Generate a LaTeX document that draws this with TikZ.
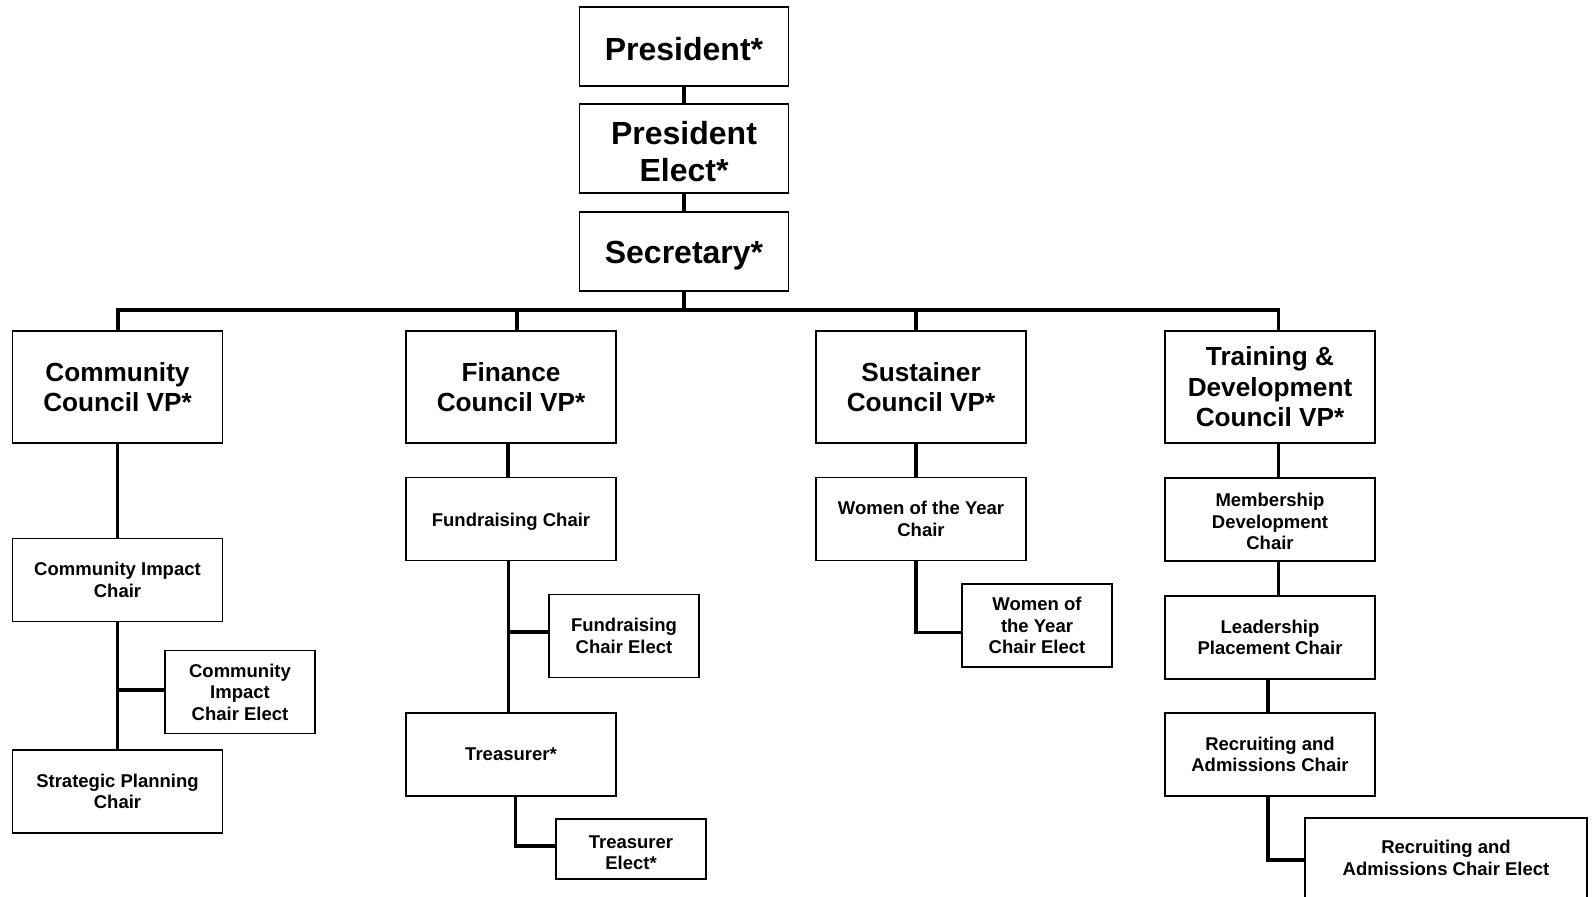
\documentclass[tikz,border=0pt]{standalone}
\usepackage{fontspec}
\setmainfont{Liberation Sans}

\tikzset{
  bigbox/.style={draw, line width=0.9pt, inner sep=0pt, align=center,
    minimum width=104.5pt, font=\bfseries\fontsize{16}{18.3}\selectfont},
  vpbox/.style={draw, line width=0.9pt, inner sep=0pt, align=center,
    minimum width=105pt, minimum height=56pt, font=\bfseries\fontsize{13.1}{15.25}\selectfont},
  chairbox/.style={draw, line width=0.9pt, inner sep=0pt, align=center,
    minimum width=105pt, minimum height=41.5pt, font=\bfseries\fontsize{9.25}{10.7}\selectfont},
  electbox/.style={chairbox, minimum width=75pt},
  link/.style={line width=1.6pt, line cap=rect}
}

\begin{document}
\begin{tikzpicture}[x=0.5pt, y=-0.5pt]

    % Page frame
    \useasboundingbox (0,0) rectangle (1594,896);
    \fill[white] (0,0) rectangle (1594,896);
    \clip (0,0) rectangle (1594,896);

    % Top column
    \node[bigbox, minimum height=39.5pt, text height=13.7pt, text depth=0pt] (pres) at (684,46.5) {President*};
    \node[bigbox, minimum height=44.5pt, text height=33pt, text depth=0pt] (preselect) at (684,148.5) {President\\Elect*};
    \node[bigbox, minimum height=39.5pt, text height=12.3pt, text depth=0pt] (sec) at (684,251.5) {Secretary*};

    % Council VPs
    \node[vpbox] (comvp) at (117.5,387) {Community\\Council VP*};
    \node[vpbox] (finvp) at (511,387) {Finance\\Council VP*};
    \node[vpbox] (susvp) at (921,387) {Sustainer\\Council VP*};
    \node[vpbox] (trvp) at (1270,387) {Training \&\\Development\\Council VP*};

    % Community council
    \node[chairbox] (cichair) at (117.5,580) {Community Impact\\Chair};
    \node[electbox] (cielect) at (240,692) {Community\\Impact\\Chair Elect};
    \node[chairbox] (strat) at (117.5,791.5) {Strategic Planning\\Chair};

    % Finance council
    \node[chairbox, text height=7.8pt, text depth=0pt] (fundr) at (511,519) {Fundraising Chair};
    \node[electbox] (fundrelect) at (624,636) {Fundraising\\Chair Elect};
    \node[chairbox] (treas) at (511,754.5) {Treasurer*};
    \node[electbox, minimum height=30pt, text height=20.4pt, text depth=0pt] (treaselect) at (631,849) {Treasurer\\Elect*};

    % Sustainer council
    \node[chairbox] (woty) at (921,519) {Women of the Year\\Chair};
    \node[electbox] (wotyelect) at (1037,625.5) {Women of\\the Year\\Chair Elect};

    % Training & development council
    \node[chairbox, text height=30.2pt, text depth=0pt] (memb) at (1270,519.5) {Membership\\Development\\Chair};
    \node[chairbox] (lead) at (1270,637.5) {Leadership\\Placement Chair};
    \node[chairbox] (recr) at (1270,754.5) {Recruiting and\\Admissions Chair};
    \node[chairbox, minimum width=141pt, minimum height=40pt] (recrelect) at (1446,858) {Recruiting and\\Admissions Chair Elect};

    % Top links and the bus
    \coordinate (busL) at (118,310);
    \coordinate (busR) at (1278.5,310);
    \draw[link] (pres) -- (preselect);
    \draw[link] (preselect) -- (sec);
    \draw[link] (sec.south) -- (sec.south |- busL);
    \draw[link] (busL) -- (busR);
    \draw[link] (busL) -- (busL |- comvp.north);
    \draw[link] ([xshift=3pt]finvp.north) -- ([xshift=3pt]finvp.north |- busL);
    \draw[link] ([xshift=-2.5pt]susvp.north) -- ([xshift=-2.5pt]susvp.north |- busL);
    \draw[link] (busR) -- (busR |- trvp.north);

    % Community links
    \draw[link] (comvp) -- (cichair);
    \draw[link] (cichair) -- (strat);
    \draw[link] ([yshift=1pt]cielect.west) -- ([yshift=1pt]cielect.west -| cichair.south);

    % Finance links
    \draw[link] ([xshift=-1.5pt]finvp.south) -- ([xshift=-1.5pt]fundr.north);
    \draw[link] ([xshift=-1.2pt]fundr.south) -- ([xshift=-1.2pt]treas.north);
    \draw[link] ([yshift=2pt]fundrelect.west) -- ([yshift=2pt,xshift=-1.2pt]fundrelect.west -| fundr.south);
    \draw[link, line join=miter] ([xshift=2.3pt]treas.south) |- ([yshift=1.5pt]treaselect.west);

    % Sustainer links
    \draw[link] ([xshift=-2.5pt]susvp.south) -- ([xshift=-2.5pt]woty.north);
    \draw[link, line join=miter] ([xshift=-2.5pt]woty.south) |- ([yshift=-3.5pt]wotyelect.west);

    % Training links
    \draw[link] ([xshift=4.25pt]trvp.south) -- ([xshift=4.25pt]memb.north);
    \draw[link] ([xshift=4.25pt]memb.south) -- ([xshift=4.25pt]lead.north);
    \draw[link] ([xshift=-1pt]lead.south) -- ([xshift=-1pt]recr.north);
    \draw[link, line join=miter] ([xshift=-1pt]recr.south) |- ([yshift=-1pt]recrelect.west);

\end{tikzpicture}
\end{document}
